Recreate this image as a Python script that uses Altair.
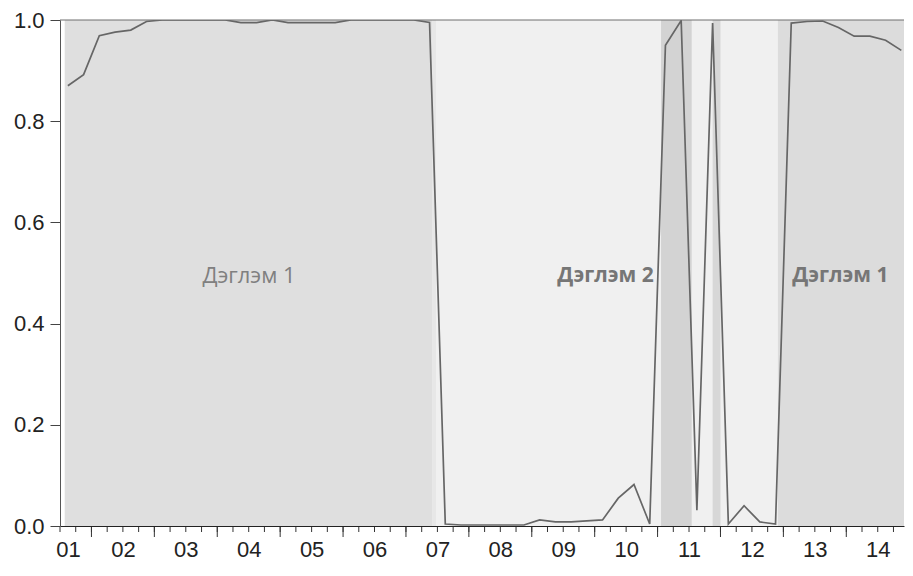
import altair as alt
import pandas as pd

# quarterly regime-probability series, 2001Q3 .. 2014Q4 (quarter index 2 = 2001Q3)
quarter_index = list(range(2, 56))
prob = [
    0.870, 0.892,                                  # 2001 Q3-Q4
    0.969, 0.976, 0.980, 0.997,                    # 2002
    1.000, 1.000, 1.000, 1.000, 1.000, 0.995,      # 2003 .. 2004Q2
    0.995, 1.000, 0.995, 0.995, 0.995, 0.995,      # 2004Q3 .. 2005Q4
    1.000, 1.000, 1.000, 1.000, 1.000, 0.995,      # 2006 .. 2007Q2
    0.004, 0.002, 0.002, 0.002, 0.002, 0.002,      # 2007Q3 .. 2008Q4
    0.012, 0.008, 0.008, 0.010, 0.012, 0.055,      # 2009 .. 2010Q2
    0.082, 0.004,                                  # 2010 Q3-Q4
    0.950, 0.999, 0.031, 0.994,                    # 2011
    0.004, 0.040, 0.008, 0.004,                    # 2012
    0.994, 0.997, 0.998, 0.985,                    # 2013
    0.968, 0.968, 0.960, 0.940,                    # 2014
]
year_labels = ["01", "02", "03", "04", "05", "06", "07",
               "08", "09", "10", "11", "12", "13", "14"]
label_pos = [2 + 4 * i for i in range(len(year_labels))]      # mid-year positions
minor_ticks = list(range(2, 56))                               # quarter boundaries
major_ticks = list(range(4, 56, 4))                            # year boundaries

# shaded regime bands (in quarter-index units)
band_start = [2.30, 25.70, 25.95, 40.22, 43.50, 47.65]
band_end = [25.70, 25.95, 47.65, 42.17, 44.00, 55.67]
band_color = ["#dfdfdf", "#e7e7e7", "#f0f0f0", "#d3d3d3", "#d7d7d7", "#dcdcdc"]

# regime annotations
ann_text = ["Дэглэм 1", "Дэглэм 2", "Дэглэм 1"]
ann_x = [14.02, 36.69, 51.62]
ann_y = [0.495, 0.495, 0.495]
ann_bold = [False, True, True]
ann_color = ["#808080", "#767676", "#767676"]

W, H = 844, 506
X_DOMAIN = [2, 55.67]

line_df = pd.DataFrame({"q": quarter_index, "p": prob})
band_df = pd.DataFrame({"s": band_start, "e": band_end, "c": band_color})
ann_df = pd.DataFrame({"t": ann_text, "x": ann_x, "y": ann_y,
                       "b": ann_bold, "c": ann_color})
minor_df = pd.DataFrame({"q": minor_ticks})
major_df = pd.DataFrame({"q": major_ticks})

labels_js = "[" + ",".join("'" + s + "'" for s in year_labels) + "]"

x_axis = alt.Axis(
    values=label_pos,
    labelExpr=f"{labels_js}[(datum.value - 2) / 4]",
    labelOffset={"condition": {"test": "datum.value == 2", "value": 8}, "value": 0},
    ticks=False,
    labelOverlap=False,
    labelPadding=13,
    labelFontSize=22,
    labelColor="#222222",
    domainColor="#222222",
    grid=False,
    title=None,
    labelBound=False,
    labelFlush=False,
)
y_axis = alt.Axis(
    values=[0, 0.2, 0.4, 0.6, 0.8, 1.0],
    format=".1f",
    tickSize=10,
    labelPadding=6,
    labelFontSize=22,
    labelColor="#222222",
    tickColor="#444444",
    domainColor="#555555",
    grid=False,
    title=None,
)

xs = alt.Scale(domain=X_DOMAIN, nice=False, zero=False)
ys = alt.Scale(domain=[0, 1], nice=False)

bands = alt.Chart(band_df).mark_rect(clip=True).encode(
    x=alt.X("s:Q", scale=xs, axis=x_axis),
    x2="e:Q",
    y=alt.value(0),
    y2=alt.value(H),
    color=alt.Color("c:N", scale=None),
)

# each quarterly observation is plotted at the middle of its quarter
line = alt.Chart(line_df).transform_calculate(
    qc="datum.q + 0.5"
).mark_line(color="#666666", strokeWidth=1.7, clip=True).encode(
    x=alt.X("qc:Q", scale=xs),
    y=alt.Y("p:Q", scale=ys, axis=y_axis),
)

def text_layer(bold):
    return alt.Chart(ann_df).transform_filter(
        "datum.b" if bold else "!datum.b"
    ).mark_text(
        font="Open Sans", fontSize=21 if bold else 22, baseline="middle",
        fontWeight="bold" if bold else "normal",
    ).encode(
        x=alt.X("x:Q", scale=xs),
        y=alt.Y("y:Q", scale=ys),
        text="t:N",
        color=alt.Color("c:N", scale=None),
    )

minor = alt.Chart(minor_df).mark_rule(color="#333333", strokeWidth=1).encode(
    x=alt.X("q:Q", scale=xs), y=alt.value(H + 1), y2=alt.value(H + 6)
)
major = alt.Chart(major_df).mark_rule(color="#333333", strokeWidth=1).encode(
    x=alt.X("q:Q", scale=xs), y=alt.value(H + 1), y2=alt.value(H + 11)
)

top_border = alt.Chart(pd.DataFrame({"k": [0]})).mark_rule(color="#6e6e6e", strokeWidth=1).encode(
    x=alt.value(0), x2=alt.value(W), y=alt.value(0)
)

chart = alt.layer(bands, line, text_layer(False), text_layer(True),
                  minor, major, top_border).properties(
    width=W, height=H,
    autosize=alt.AutoSizeParams(type="none"),
    padding={"left": 52, "top": 12, "right": 1, "bottom": 38},
).configure_view(stroke=None).configure_axis(
    labelFont="Liberation Sans"
)

chart.save("out.html", embed_options={"renderer": "svg", "actions": False})
